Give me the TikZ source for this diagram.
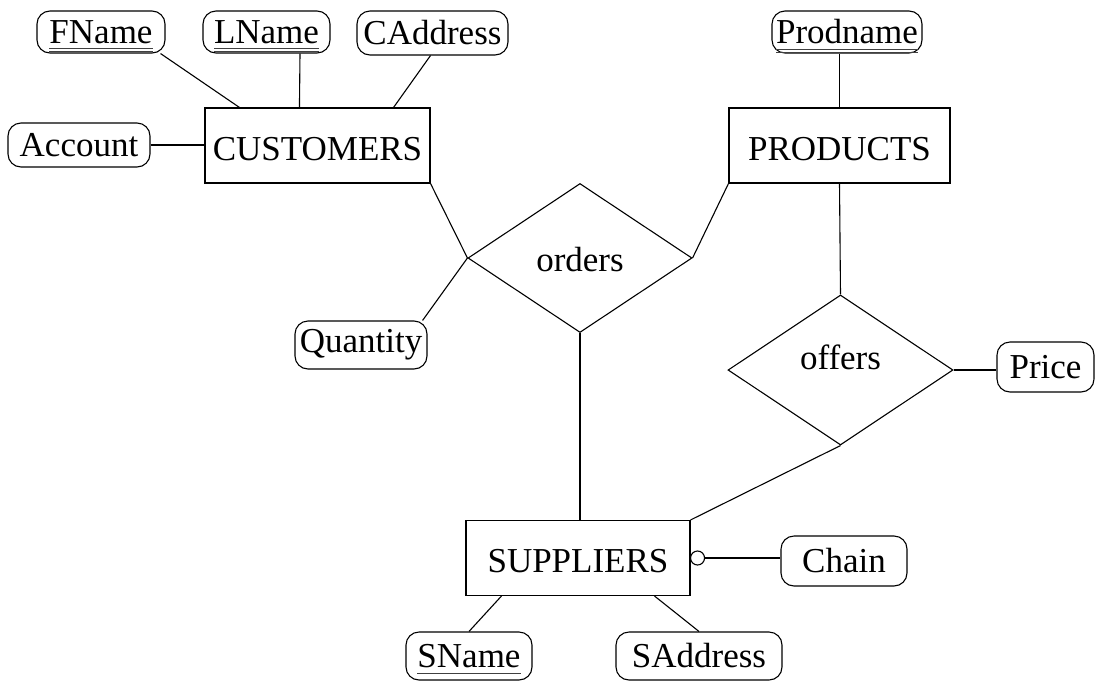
\documentclass[tikz,border=0pt]{standalone}
\usepackage{fontspec}
\setmainfont{Liberation Serif}
\usetikzlibrary{shapes.geometric}
\newcommand\myul[2]{\setbox0\hbox{#2}\rlap{\smash{\color{black!75}\rule[-#1pt]{\wd0}{1.3pt}}}}
\newcommand\sglul[1]{\setbox0\hbox{#1}\myul{7}{#1}\box0}
\newcommand\dblul[1]{\setbox0\hbox{#1}\myul{6}{#1}\myul{9}{#1}\box0}
\tikzset{
  every node/.style={font=\fontsize{35}{40}\selectfont},
  conn/.style={line width=1.1pt},
  ent/.style={draw, line width=1.1pt, minimum height=75pt, inner sep=0pt, text height=29pt, text depth=0pt},
  attr/.style={draw, line width=1.1pt, rounded corners=13pt, minimum height=46pt, inner sep=0pt},
  rel/.style={draw, diamond, line width=1.1pt, inner sep=0pt},
  lbl/.style={anchor=base, inner sep=0pt}
}
\begin{document}
\begin{tikzpicture}[x=1pt,y=-1pt]
\useasboundingbox (0,0) rectangle (1095,686);
% entities
\node[ent, minimum width=225pt] (cust) at (317.5,145.5) {CUSTOMERS};
\node[ent, minimum width=221pt] (prod) at (839.5,145.5) {PRODUCTS};
\node[ent, minimum width=224pt] (sup) at (578,558) {SUPPLIERS};
% relationships
\node[rel, minimum width=224pt, minimum height=149pt] (orders) at (580,258) {};
\node[lbl] (ordersl) at (580,271) {orders};
\node[rel, minimum width=225pt, minimum height=150pt] (offers) at (840.5,370) {};
\node[lbl] (offersl) at (840.5,369) {offers};
% attributes
\node[attr, minimum width=128pt, minimum height=42pt] (fname) at (101,32) {\dblul{FName}};
\node[attr, minimum width=127pt, minimum height=42pt] (lname) at (266.5,32) {\dblul{LName}};
\node[attr, minimum width=151pt, minimum height=44pt] (caddr) at (432.5,33) {CAddress};
\node[attr, minimum width=142pt, minimum height=44pt] (account) at (79,145) {Account};
\node[attr, minimum width=150pt, minimum height=42pt] (prodname) at (847,32) {\dblul{Prodname}};
\node[attr, minimum width=132pt, minimum height=48pt] (quantity) at (361,345) {Quantity};
\node[attr, minimum width=97pt, minimum height=50pt] (price) at (1045.5,367) {Price};
\node[attr, minimum width=126pt, minimum height=50pt] (chain) at (844,561) {Chain};
\node[attr, minimum width=126pt, minimum height=48pt] (sname) at (469,656) {\sglul{SName}};
\node[attr, minimum width=166pt, minimum height=48pt] (saddr) at (699,656) {SAddress};
% connectors
\draw[conn] ([xshift=-5pt]fname.south east) -- ([xshift=35pt]cust.north west);
\draw[conn] ([xshift=33.5pt]lname.south) -- ([xshift=95pt]cust.north west);
\draw[conn] ([xshift=-2pt]caddr.south) -- ([xshift=-37pt]cust.north east);
\draw[conn] (account.east) -- (account.east -| cust.west);
\draw[conn] (cust.south east) -- (orders.west);
\draw[conn] (prod.south west) -- (orders.east);
\draw[conn] ([xshift=-5pt]quantity.north east) -- (orders.west);
\draw[conn] (orders.south) -- (orders.south |- sup.north);
\draw[conn] (prod.north |- prodname.south) -- (prod.north);
\draw[conn] (prod.south) -- (offers.north);
\draw[conn] (offers.east) -- (offers.east -| price.west);
\draw[conn] (offers.south) -- (sup.north east);
\draw[conn] (sup.east) -- (sup.east -| chain.west);
\draw[conn, fill=white] ([xshift=7pt]sup.east) circle[radius=7pt];
\draw[conn] ([xshift=36pt]sup.south west) -- (sname.north);
\draw[conn] ([xshift=-36pt]sup.south east) -- (saddr.north);
\end{tikzpicture}
\end{document}
